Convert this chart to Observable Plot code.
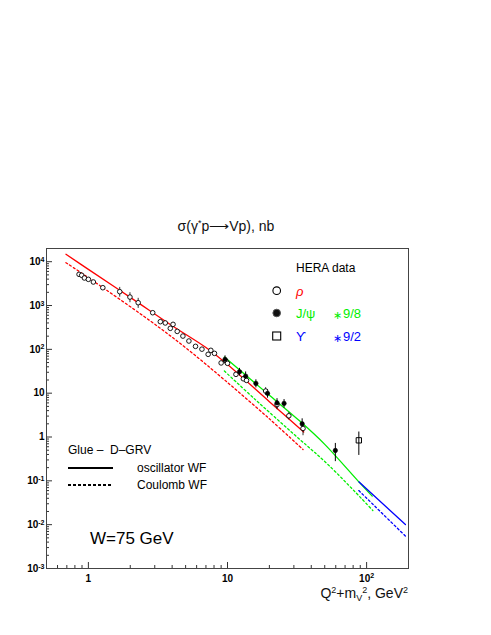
<!DOCTYPE html>
<html>
<head>
<meta charset="utf-8">
<script src="https://cdn.jsdelivr.net/npm/d3@7"></script>
<script src="https://cdn.jsdelivr.net/npm/@observablehq/plot@0.6"></script>
<style>
  body { margin: 0; background: #fff; }
  #chart { position: relative; width: 491px; height: 635px; }
</style>
</head>
<body>
<div id="chart"></div>
<script>
// ---------- data ----------
const xTicks = [1, 10, 100];
const yTicks = [1e-3, 1e-2, 1e-1, 1, 10, 100, 1e3, 1e4];

// rho (open circles)
const rhoX = [0.857, 0.895, 0.936, 1.0, 1.086, 1.27, 1.68, 1.99, 2.28, 2.90, 3.29, 3.57, 3.88, 4.06, 4.35, 4.78, 5.28, 5.89, 6.55, 7.26, 7.59, 8.06, 9.0, 9.7, 10.0, 11.5, 13.0, 13.7, 18.8, 22.7, 27.6, 34.9];
const rhoY = [5150, 4900, 4250, 3960, 3440, 2550, 2070, 1560, 1160, 685, 428, 400, 302, 372, 257, 201, 155, 117, 101, 77, 95, 81, 49, 55, 48, 26.9, 21.3, 19.6, 11.2, 5.5, 3.05, 1.57];
const rhoErr = [300, 250, 200, 200, 150, 200, 520, 400, 300, 40, 25, 25, 20, 25, 15, 12, 10, 8, 7, 6, 7, 6, 4, 4, 4, 3, 2.5, 2.5, 2.2, 1.3, 0.6, 0.5];

// J/psi (filled circles)
const jpsiX = [9.6, 12.2, 13.5, 16.0, 19.4, 22.7, 25.5, 34.4, 59.6];
const jpsiY = [59, 30.8, 24.5, 16.7, 9.9, 6.0, 5.85, 2.0, 0.494];
const jpsiErr = [12, 6, 6, 3.5, 2.2, 1.5, 1.3, 0.6, 0.22];

// Upsilon (open square)
const upsX = [87.9];
const upsY = [0.84];
const upsErr = [0.46];

// model curves: oscillator WF (solid) and Coulomb WF (dashed)
const rhoOscX = [0.69, 1, 2, 4, 7, 10, 20, 35.3];
const rhoOscY = [14750, 6670, 1535, 346, 110, 45, 6.4, 1.3];
const rhoCouX = [0.69, 1, 2.79, 5, 9.6, 20, 34.9];
const rhoCouY = [9500, 4320, 443, 109, 19.6, 2.6, 0.52];
const jpsiOscX = [9.5, 20, 33.1, 50, 87.9, 109.7];
const jpsiOscY = [66.7, 8.95, 2.31, 0.68, 0.095, 0.0448];
const jpsiCouX = [9.5, 15.8, 30, 54.2, 110.8];
const jpsiCouY = [32, 7.2, 1.16, 0.217, 0.0211];
const upsOscX = [87.9, 190];
const upsOscY = [0.095, 0.0101];
const upsCouX = [87.9, 190];
const upsCouY = [0.060, 0.0055];

// ---------- helpers ----------
const FONT = "'Liberation Sans', Arial, Helvetica, sans-serif";
const RED = "#ff0000", GREEN = "#00ee00", BLUE = "#0000ff";
const zip = (xs, ys, es) => xs.map((x, i) => ({x, y: ys[i], e: es ? es[i] : 0}));

const rho = zip(rhoX, rhoY, rhoErr);
const jpsi = zip(jpsiX, jpsiY, jpsiErr);
const ups = zip(upsX, upsY, upsErr);

const curves = [
  {xs: rhoCouX, ys: rhoCouY, color: RED, dash: "2,2.5"},
  {xs: jpsiCouX, ys: jpsiCouY, color: GREEN, dash: "2,2.5"},
  {xs: upsCouX, ys: upsCouY, color: BLUE, dash: "2,2.5"},
  {xs: rhoOscX, ys: rhoOscY, color: RED, dash: null},
  {xs: jpsiOscX, ys: jpsiOscY, color: GREEN, dash: null},
  {xs: upsOscX, ys: upsOscY, color: BLUE, dash: null}
];

// minor ticks (axis decoration)
const xMinor = [];
for (const k of [-1, 0, 1, 2]) for (let m = 2; m <= 9; m++) { const v = m * 10 ** k; if (v > 0.5 && v < 200) xMinor.push(v); }
const yMinor = [];
for (let k = -3; k <= 4; k++) for (let m = 2; m <= 9; m++) { const v = m * 10 ** k; if (v < 2e4) yMinor.push(v); }

const fmt = d => { const e = Math.round(Math.log10(d)); return e === 0 ? "1" : e === 1 ? "10" : "10^" + e; };

const W = 491, H = 635, mT = 248, mB = 67, mL = 46, mR = 83;
const plotW = W - mL - mR, plotH = H - mT - mB;

function annotations() {
  const g = d3.create("svg:g").attr("font-family", FONT).attr("font-weight", "normal").attr("text-anchor", "start");
  const txt = (x, y, s, o = {}) => {
    const t = g.append("text").attr("x", x).attr("y", y)
      .attr("font-size", o.size || 12).attr("fill", o.fill || "black")
      .attr("text-anchor", o.anchor || "start")
      .style("white-space", "pre");
    if (o.italic) t.attr("font-style", "italic");
    t.text(s);
    return t;
  };
  // title
  const t = g.append("text").attr("x", 226).attr("y", 231).attr("text-anchor", "middle").attr("font-size", 14).attr("fill", "#111");
  t.append("tspan").text("σ(γ");
  t.append("tspan").attr("dy", -5).attr("font-size", 9).text("*");
  t.append("tspan").attr("dy", 5).text("p⟶Vp), nb");
  // x label
  const xl = g.append("text").attr("x", 408).attr("y", 598).attr("text-anchor", "end").attr("font-size", 14).attr("fill", "#111");
  xl.append("tspan").text("Q");
  xl.append("tspan").attr("dy", -5).attr("font-size", 9).text("2");
  xl.append("tspan").attr("dy", 5).text("+m");
  xl.append("tspan").attr("dy", 3).attr("font-size", 9).text("V");
  xl.append("tspan").attr("dy", -8).attr("font-size", 9).text("2");
  xl.append("tspan").attr("dy", 5).text(", GeV");
  xl.append("tspan").attr("dy", -5).attr("font-size", 9).text("2");
  // HERA legend
  txt(296, 271.5, "HERA data");
  g.append("circle").attr("cx", 276.7).attr("cy", 290.7).attr("r", 3.8).attr("fill", "white").attr("stroke", "black").attr("stroke-width", 1.1);
  txt(296, 295.5, "ρ", {fill: RED, italic: true, size: 13});
  g.append("circle").attr("cx", 276.7).attr("cy", 313).attr("r", 3.8).attr("fill", "#111").attr("stroke", "#555").attr("stroke-width", 1);
  txt(296, 317.5, "J/ψ", {fill: GREEN, size: 13});
  txt(333, 319, "∗", {fill: GREEN, size: 11});
  txt(343, 317.5, "9/8", {fill: GREEN, size: 13});
  g.append("rect").attr("x", 272.7).attr("y", 332).attr("width", 8).attr("height", 8).attr("fill", "none").attr("stroke", "black").attr("stroke-width", 1.1);
  txt(296, 340.5, "ϒ", {fill: BLUE, size: 13});
  txt(333, 342, "∗", {fill: BLUE, size: 11});
  txt(343, 340.5, "9/2", {fill: BLUE, size: 13});
  // model legend
  txt(68, 454, "Glue –  D–GRV");
  g.append("line").attr("x1", 68).attr("x2", 113).attr("y1", 468).attr("y2", 468).attr("stroke", "black").attr("stroke-width", 2);
  txt(137, 472, "oscillator WF");
  g.append("line").attr("x1", 68).attr("x2", 113).attr("y1", 485).attr("y2", 485).attr("stroke", "black").attr("stroke-width", 2).attr("stroke-dasharray", "3,2");
  txt(137, 489, "Coulomb WF");
  txt(90, 544, "W=75 GeV", {size: 17});
  return g.node();
}

const chart = Plot.plot({
  width: W, height: H,
  marginTop: mT, marginBottom: mB, marginLeft: mL, marginRight: mR,
  style: {fontFamily: FONT, fontSize: "10px", fontWeight: "bold", background: "white", color: "black"},
  x: {type: "log", domain: [0.5, 200], ticks: xTicks, tickFormat: fmt, tickSize: 0, tickPadding: 6, label: null},
  y: {type: "log", domain: [1e-3, 2e4], ticks: yTicks, tickFormat: fmt, tickSize: 0, tickPadding: 2, label: null},
  marks: [
    // inner ticks
    Plot.tickX(xTicks, {x: d => d, insetTop: plotH - 6, stroke: "#333"}),
    Plot.tickX(xMinor, {x: d => d, insetTop: plotH - 3, stroke: "#333"}),
    Plot.tickY(yTicks, {y: d => d, insetRight: plotW - 6, stroke: "#333"}),
    Plot.tickY(yMinor, {y: d => d, insetRight: plotW - 3, stroke: "#333"}),
    // curves
    ...curves.map(c => Plot.line(zip(c.xs, c.ys), {x: "x", y: "y", stroke: c.color, strokeWidth: 1.3, strokeDasharray: c.dash, curve: "catmull-rom"})),
    // error bars
    Plot.ruleX(rho, {x: "x", y1: d => d.y - d.e, y2: d => d.y + d.e, stroke: "black", strokeWidth: 0.8}),
    Plot.ruleX(jpsi, {x: "x", y1: d => d.y - d.e, y2: d => d.y + d.e, stroke: "black", strokeWidth: 1}),
    Plot.ruleX(ups, {x: "x", y1: d => d.y - d.e, y2: d => d.y + d.e, stroke: "black", strokeWidth: 1}),
    // data points
    Plot.dot(rho, {x: "x", y: "y", r: 2.3, fill: "white", stroke: "black", strokeWidth: 0.9}),
    Plot.dot(jpsi, {x: "x", y: "y", r: 2.2, fill: "black", stroke: "black", strokeWidth: 0.6}),
    Plot.dot(ups, {x: "x", y: "y", r: 3, symbol: "square", fill: "none", stroke: "black", strokeWidth: 1}),
    Plot.frame({stroke: "#444", strokeWidth: 1}),
    annotations
  ]
});

// superscript exponents in tick labels
const NS = "http://www.w3.org/2000/svg";
chart.querySelectorAll("text").forEach(t => {
  const m = /^10\^(-?\d+)$/.exec(t.textContent);
  if (m) {
    t.textContent = "10";
    const ts = document.createElementNS(NS, "tspan");
    ts.setAttribute("dy", "-0.45em");
    ts.setAttribute("font-size", "7");
    ts.textContent = m[1];
    t.appendChild(ts);
  }
});

document.getElementById("chart").appendChild(chart);
</script>
</body>
</html>
